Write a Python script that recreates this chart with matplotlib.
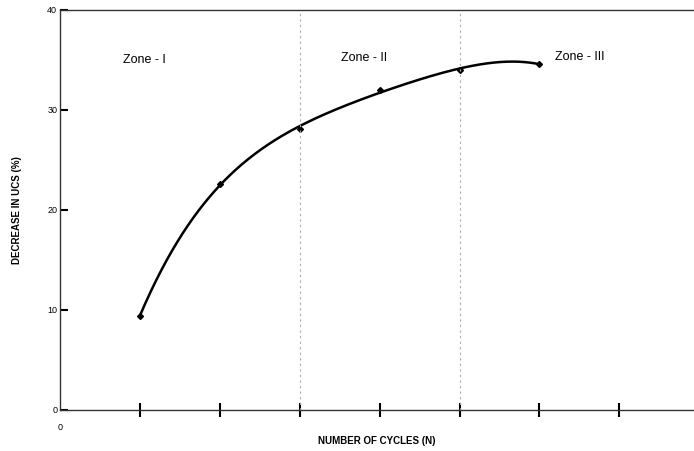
import matplotlib
matplotlib.use("Agg")
import matplotlib.pyplot as plt
import numpy as np

plt.rcParams['font.family'] = ['Liberation Sans', 'DejaVu Sans']

cycles = [1, 2, 3, 4, 5, 6]
ucs_decrease = [9.4, 22.6, 28.1, 32.0, 34.0, 34.6]
zone_names = ["Zone - I", "Zone - II", "Zone - III"]
zone_x = [1.05, 3.8, 6.5]
zone_y = [35.0, 35.2, 35.3]
zone_bounds = [3, 5]

fig = plt.figure(figsize=(6.94, 4.51), dpi=100)
ax = fig.add_axes([0.0865, 0.091, 0.913, 0.887])

# smooth trend line (polynomial fit of the measured points)
coef = np.polyfit(cycles, ucs_decrease, 4)
xs = np.linspace(cycles[0], cycles[-1], 300)
ax.plot(xs, np.polyval(coef, xs), color="black", lw=1.8)
ax.plot(cycles, ucs_decrease, "D", color="black", ms=3)

for b in zone_bounds:
    ax.axvline(b, color="#aaaaaa", lw=0.8, ls=(0, (2, 3)))

for name, zx, zy in zip(zone_names, zone_x, zone_y):
    ax.text(zx, zy, name, ha="center", va="center", fontsize=9)

ax.set_xlim(0, 7.93)
ax.set_ylim(0, 40)
ax.set_xticks(range(1, 8))
ax.set_xticklabels([])
ax.tick_params(axis="x", direction="inout", length=10, width=1.5, color="black")
ax.set_yticks([0, 10, 20, 30, 40])
ax.tick_params(axis="y", direction="in", length=6, width=1.5, labelsize=6.5, pad=2)
ax.spines["right"].set_visible(False)
for s in ["left", "bottom", "top"]:
    ax.spines[s].set_linewidth(1.0)
    ax.spines[s].set_color("#333333")

ax.text(0, -1.3, "0", ha="center", va="top", fontsize=6.5)
ax.set_xlabel("NUMBER OF CYCLES (N)", fontsize=7, fontweight="bold")
ax.xaxis.set_label_coords(0.5, -0.065)
ax.set_ylabel("DECREASE IN UCS (%)", fontsize=7, fontweight="bold", labelpad=18)

fig.savefig("out.png", dpi=100)
